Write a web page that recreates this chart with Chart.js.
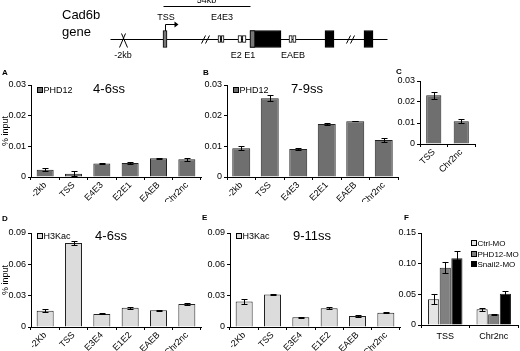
<!DOCTYPE html>
<html>
<head>
<meta charset="utf-8">
<script src="https://cdn.jsdelivr.net/npm/chart.js@4.4.1/dist/chart.umd.min.js"></script>
<style>
    body { margin: 0; background: #fff; width: 520px; height: 351px; overflow: hidden; position: relative; font-family: Arial, "Liberation Sans", sans-serif; }
    canvas { position: absolute; }
    .letter { position: absolute; font-size: 8px; font-weight: bold; color: #000; }
    .ttl { position: absolute; font-size: 13px; color: #000; transform: translate(-50%, -50%); white-space: nowrap; }
</style>
</head>
<body>
<canvas id="gene" width="520" height="62" style="left:0px;top:0px"></canvas>
<canvas id="chartA" width="205" height="140" style="left:0px;top:62px"></canvas>
<canvas id="chartB" width="203" height="140" style="left:199px;top:62px"></canvas>
<canvas id="chartC" width="88" height="102" style="left:392px;top:70px"></canvas>
<canvas id="chartD" width="205" height="136" style="left:0px;top:215px"></canvas>
<canvas id="chartE" width="204" height="136" style="left:200px;top:215px"></canvas>
<canvas id="chartF" width="130" height="136" style="left:390px;top:215px"></canvas>

<div class="letter" style="left:2px;top:68px">A</div>
<div class="letter" style="left:203px;top:68px">B</div>
<div class="letter" style="left:396px;top:67px">C</div>
<div class="letter" style="left:2px;top:214px">D</div>
<div class="letter" style="left:202px;top:213px">E</div>
<div class="letter" style="left:404px;top:213px">F</div>
<div class="ttl" style="left:109px;top:88px">4-6ss</div>
<div class="ttl" style="left:307px;top:88px">7-9ss</div>
<div class="ttl" style="left:111px;top:235px">4-6ss</div>
<div class="ttl" style="left:312px;top:235px">9-11ss</div>

<script>
// ---- dados do gráfico ----
const sitesPHD = ['-2kb', 'TSS', 'E4E3', 'E2E1', 'EAEB', 'Chr2nc'];
const sitesH3 = ['-2Kb', 'TSS', 'E3E4', 'E1E2', 'EAEB', 'Chr2nc'];
const sitesC = ['TSS', 'Chr2nc'];
const groupsF = ['TSS', 'Chr2nc'];

const phd12_4_6ss = [0.0024, 0.0011, 0.0044, 0.0046, 0.0061, 0.0058];
const phd12_4_6ss_err = [0.0005, 0.0008, 0.0002, 0.0002, 0.0001, 0.0005];
const phd12_7_9ss = [0.0094, 0.0257, 0.0091, 0.0173, 0.0182, 0.0121];
const phd12_7_9ss_err = [0.0006, 0.0009, 0.0002, 0.0002, 0.0001, 0.0006];
const phd12_C = [0.0232, 0.0108];
const phd12_C_err = [0.0016, 0.0010];
const h3kac_4_6ss = [0.0155, 0.0805, 0.0125, 0.0185, 0.0160, 0.0220];
const h3kac_4_6ss_err = [0.0015, 0.0020, 0.0005, 0.0010, 0.0007, 0.0010];
const h3kac_9_11ss = [0.0245, 0.0310, 0.0093, 0.0180, 0.0105, 0.0137];
const h3kac_9_11ss_err = [0.0020, 0.0005, 0.0003, 0.0010, 0.0006, 0.0005];
const ctrlMO = [0.0420, 0.0255];
const ctrlMO_err = [0.0080, 0.0030];
const phd12MO = [0.0935, 0.0175];
const phd12MO_err = [0.0090, 0.0010];
const snail2MO = [0.1090, 0.0510];
const snail2MO_err = [0.0120, 0.0050];

// esquema do gene (posições ao longo do desenho)
const geneSpan = [110, 387];
const geneBreaks = [205, 350];
const promoterBox = [[163, 167]];
const codingExons = [[250, 281], [325, 334], [364, 373]];
const utrPart = [[250, 255]];
const primerBoxes = [[218, 220.6], [221.4, 224], [238, 241.6], [242.4, 246], [289, 292.2], [292.8, 296]];
const scaleBar = [163, 250];
const scaleLabel = '54kb';
const siteMark = 123;
const tssPos = 165;
const labelsAbove = [['TSS', 166], ['E4E3', 222]];
const labelsBelow = [['-2kb', 123], ['E2 E1', 243], ['EAEB', 293]];

Chart.defaults.font.family = 'Arial, "Liberation Sans", sans-serif';
Chart.defaults.color = '#000';
Chart.defaults.animation = false;

// barras de erro desenhadas pela escala y
const errorBars = {
    id: 'errorBars',
    afterDatasetsDraw(chart) {
        const ctx = chart.ctx;
        const y = chart.scales.y;
        chart.data.datasets.forEach(function (ds, i) {
            if (!ds.errors) return;
            chart.getDatasetMeta(i).data.forEach(function (bar, j) {
                const x = Math.round(bar.x) + 0.5;
                const top = Math.round(y.getPixelForValue(ds.data[j] + ds.errors[j])) + 0.5;
                const bot = Math.round(y.getPixelForValue(ds.data[j] - ds.errors[j])) + 0.5;
                ctx.save();
                ctx.strokeStyle = '#000';
                ctx.lineWidth = 1;
                ctx.beginPath();
                ctx.moveTo(x, top); ctx.lineTo(x, bot);
                ctx.moveTo(x - 3, top); ctx.lineTo(x + 3, top);
                ctx.moveTo(x - 3, bot); ctx.lineTo(x + 3, bot);
                ctx.stroke();
                ctx.restore();
            });
        });
    }
};

// legenda dentro da área do gráfico
const innerLegend = {
    id: 'innerLegend',
    afterDraw(chart, args, opts) {
        if (!opts.show) return;
        const ctx = chart.ctx;
        const a = chart.chartArea;
        ctx.save();
        ctx.font = opts.size + 'px Arial, "Liberation Sans", sans-serif';
        ctx.textBaseline = 'middle';
        chart.data.datasets.forEach(function (ds, i) {
            const x = Math.round(a.left + opts.dx) + 0.5;
            const yc = Math.round(a.top + opts.dy + i * opts.gap);
            ctx.fillStyle = ds.backgroundColor;
            ctx.strokeStyle = '#000';
            ctx.fillRect(x, yc - 2.5, 5, 5);
            ctx.strokeRect(x, yc - 2.5, 5, 5);
            ctx.fillStyle = '#000';
            ctx.fillText(ds.label, x + 6, yc + 0.5);
        });
        ctx.restore();
    }
};

function drawPanel(canvasId, labels, datasets, o) {
    const ctx = document.getElementById(canvasId).getContext('2d');
    return new Chart(ctx, {
        type: 'bar',
        data: { labels: labels, datasets: datasets },
        plugins: [errorBars, innerLegend],
        options: {
            responsive: false,
            layout: { padding: { top: o.padTop, right: o.padRight, left: 0, bottom: 0 } },
            plugins: {
                legend: { display: false },
                tooltip: { enabled: false },
                innerLegend: o.legend
            },
            scales: {
                x: {
                    afterFit: function (s) { s.height = o.xH; },
                    grid: { display: true, drawOnChartArea: false, tickLength: 3, color: '#000', offset: true },
                    border: { color: '#000' },
                    ticks: { font: { size: 9 }, maxRotation: o.rot, minRotation: o.rot, padding: o.rot ? 0 : 3, autoSkip: false }
                },
                y: {
                    min: 0,
                    max: o.max,
                    afterFit: function (s) { s.width = o.yW; },
                    grid: { display: true, drawOnChartArea: false, tickLength: 3, color: '#000' },
                    border: { color: '#000' },
                    ticks: { font: { size: 9 }, stepSize: o.step, padding: 2 },
                    title: { display: !!o.yTitle, text: o.yTitle, font: { size: 9 }, padding: 0 }
                }
            }
        }
    });
}

function singleSeries(label, values, errs, fill, pct) {
    return [{
        label: label,
        data: values,
        errors: errs,
        backgroundColor: fill,
        borderColor: '#222',
        borderWidth: 1,
        categoryPercentage: 1,
        barPercentage: pct
    }];
}

const darkGray = '#6f6f6f';
const lightGray = '#dcdcdc';

drawPanel('chartA', sitesPHD, singleSeries('PHD12', phd12_4_6ss, phd12_4_6ss_err, darkGray, 0.6),
    { max: 0.03, step: 0.01, yW: 31, xH: 25, padTop: 23, padRight: 4, rot: 45, yTitle: '% input', legend: { show: true, size: 9, dx: 6, dy: 5, gap: 10 } });
drawPanel('chartB', sitesPHD, singleSeries('PHD12', phd12_7_9ss, phd12_7_9ss_err, darkGray, 0.63),
    { max: 0.03, step: 0.01, yW: 28, xH: 25, padTop: 23, padRight: 4, rot: 45, legend: { show: true, size: 9, dx: 6, dy: 5, gap: 10 } });
drawPanel('chartC', sitesC, singleSeries('PHD12', phd12_C, phd12_C_err, darkGray, 0.55),
    { max: 0.03, step: 0.01, yW: 28, xH: 28, padTop: 11, padRight: 5, rot: 45, legend: { show: false } });
drawPanel('chartD', sitesH3, singleSeries('H3Kac', h3kac_4_6ss, h3kac_4_6ss_err, lightGray, 0.6),
    { max: 0.09, step: 0.03, yW: 31, xH: 24, padTop: 18, padRight: 4, rot: 45, yTitle: '% input', legend: { show: true, size: 9, dx: 6, dy: 3, gap: 10 } });
drawPanel('chartE', sitesH3, singleSeries('H3Kac', h3kac_9_11ss, h3kac_9_11ss_err, lightGray, 0.6),
    { max: 0.09, step: 0.03, yW: 30, xH: 24, padTop: 18, padRight: 4, rot: 45, legend: { show: true, size: 9, dx: 6, dy: 3, gap: 10 } });

const seriesF = [
    ['Ctrl-MO', ctrlMO, ctrlMO_err, '#e4e4e4'],
    ['PHD12-MO', phd12MO, phd12MO_err, '#808080'],
    ['Snail2-MO', snail2MO, snail2MO_err, '#000000']
].map(function (s) {
    return { label: s[0], data: s[1], errors: s[2], backgroundColor: s[3], borderColor: '#222', borderWidth: 1, categoryPercentage: 0.72, barPercentage: 0.96 };
});
drawPanel('chartF', groupsF, seriesF,
    { max: 0.15, step: 0.05, yW: 31, xH: 26, padTop: 18, padRight: 2, rot: 0, legend: { show: true, size: 8, dx: 50, dy: 10, gap: 10.5 } });

// ---- esquema do gene Cad6b ----
const geneDecor = {
    id: 'geneDecor',
    beforeDatasetsDraw(chart) {
        const ctx = chart.ctx;
        const x = chart.scales.x;
        const yc = Math.round((chart.chartArea.top + chart.chartArea.bottom) / 2) + 0.5;
        const px = function (v) { return Math.round(x.getPixelForValue(v)) + 0.5; };
        ctx.save();
        ctx.strokeStyle = '#000';
        ctx.fillStyle = '#000';
        ctx.lineWidth = 1;
        // linha do gene
        ctx.beginPath();
        ctx.moveTo(px(geneSpan[0]), yc); ctx.lineTo(px(geneSpan[1]), yc);
        ctx.stroke();
        // quebras
        geneBreaks.forEach(function (b) {
            const bx = px(b);
            ctx.beginPath();
            ctx.moveTo(bx - 4, yc + 4); ctx.lineTo(bx, yc - 4);
            ctx.moveTo(bx, yc + 4); ctx.lineTo(bx + 4, yc - 4);
            ctx.stroke();
        });
        // marca -2kb
        const mx = px(siteMark);
        ctx.beginPath();
        ctx.moveTo(mx - 2, yc - 6); ctx.lineTo(mx + 4, yc + 8);
        ctx.moveTo(mx + 2, yc - 6); ctx.lineTo(mx - 4, yc + 8);
        ctx.stroke();
        // seta TSS
        const tx = px(tssPos);
        ctx.beginPath();
        ctx.moveTo(tx, yc - 8); ctx.lineTo(tx, yc - 15); ctx.lineTo(tx + 10, yc - 15);
        ctx.stroke();
        ctx.beginPath();
        ctx.moveTo(tx + 13, yc - 15); ctx.lineTo(tx + 9, yc - 18); ctx.lineTo(tx + 9, yc - 12);
        ctx.closePath(); ctx.fill();
        // barra de escala
        ctx.beginPath();
        ctx.moveTo(px(scaleBar[0]), 6.5); ctx.lineTo(px(scaleBar[1]), 6.5);
        ctx.stroke();
        ctx.textAlign = 'center';
        ctx.textBaseline = 'middle';
        ctx.font = '9px Arial, "Liberation Sans", sans-serif';
        ctx.fillText(scaleLabel, x.getPixelForValue((scaleBar[0] + scaleBar[1]) / 2), 1);
        labelsAbove.forEach(function (l) { ctx.fillText(l[0], x.getPixelForValue(l[1]), yc - 22); });
        labelsBelow.forEach(function (l) { ctx.fillText(l[0], x.getPixelForValue(l[1]), yc + 16); });
        ctx.textAlign = 'left';
        ctx.font = '13px Arial, "Liberation Sans", sans-serif';
        ctx.fillText('Cad6b', 62, 15);
        ctx.fillText('gene', 62, 32);
        ctx.restore();
    }
};

function geneBoxes(ranges, fill, thick) {
    return ranges.map(function (r) {
        return { data: [r], backgroundColor: fill, borderColor: '#000', borderWidth: 1, barThickness: thick, grouped: false, clip: false, borderSkipped: false };
    });
}

new Chart(document.getElementById('gene').getContext('2d'), {
    type: 'bar',
    data: {
        labels: ['Cad6b'],
        datasets: [].concat(
            geneBoxes(utrPart, '#777', 17),
            geneBoxes(codingExons, '#000', 17),
            geneBoxes(promoterBox, '#777', 17),
            geneBoxes(primerBoxes, '#fff', 7)
        )
    },
    plugins: [geneDecor],
    options: {
        indexAxis: 'y',
        responsive: false,
        layout: { padding: { top: 21, bottom: 5, left: 0, right: 0 } },
        plugins: { legend: { display: false }, tooltip: { enabled: false } },
        scales: {
            x: { type: 'linear', min: 0, max: 520, display: false },
            y: { display: false }
        }
    }
});
</script>
</body>
</html>
